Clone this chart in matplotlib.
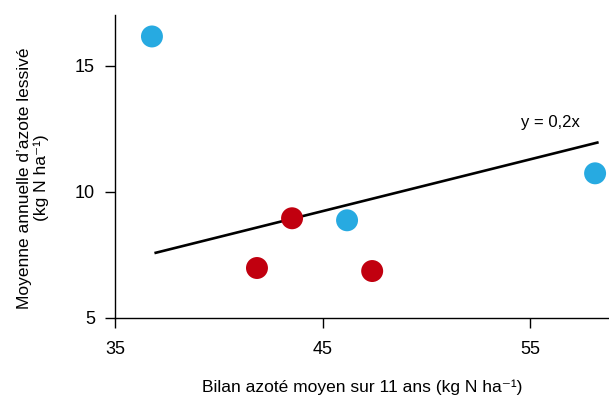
import matplotlib
matplotlib.use("Agg")
import matplotlib.pyplot as plt

plt.rcParams['font.family'] = ['Liberation Sans', 'DejaVu Sans']

blue = '#27AAE1'
red = '#C1000F'

# data
blue_x = [36.78, 46.18, 58.13]
blue_y = [16.15, 8.87, 10.73]
red_x = [41.84, 43.53, 47.39]
red_y = [6.98, 8.95, 6.86]
fit_x = [36.9, 58.3]
fit_y = [7.57, 11.96]

W, H = 609, 396
fig = plt.figure(figsize=(W/100, H/100), dpi=100)
ax = fig.add_axes([115/W, 78/H, 1 - 115/W, (318 - 15)/H])

ax.plot(fit_x, fit_y, color='black', lw=1.9, solid_capstyle='butt', zorder=2)
ax.scatter(blue_x, blue_y, s=250, color=blue, edgecolor='none', zorder=3, clip_on=False)
ax.scatter(red_x, red_y, s=250, color=red, edgecolor='none', zorder=3, clip_on=False)
fig.text(550/W, 1 - 122/H, 'y = 0,2x', fontsize=12, ha='center', va='center')

ax.set_xlim(35, 58.8)
ax.set_ylim(5, 17)
ax.set_xticks([35, 45, 55])
ax.set_yticks([5, 10, 15])
ax.tick_params(direction='out', length=7.5, width=1, labelsize=13)
ax.tick_params(axis='x', pad=9)
ax.tick_params(axis='y', pad=7)
for s in ['top', 'right']:
    ax.spines[s].set_visible(False)
for s in ['left', 'bottom']:
    ax.spines[s].set_linewidth(1)

fig.text(362/W, 1 - 387/H, 'Bilan azoté moyen sur 11 ans (kg N ha\u207b\u00b9)',
         fontsize=12.5, ha='center', va='center')
fig.text(33/W, 1 - 178/H, "Moyenne annuelle d\u2019azote lessivé\n(kg N ha\u207b\u00b9)",
         fontsize=12.5, ha='center', va='center', rotation=90, linespacing=1.15)

fig.savefig('out.png', dpi=100)
